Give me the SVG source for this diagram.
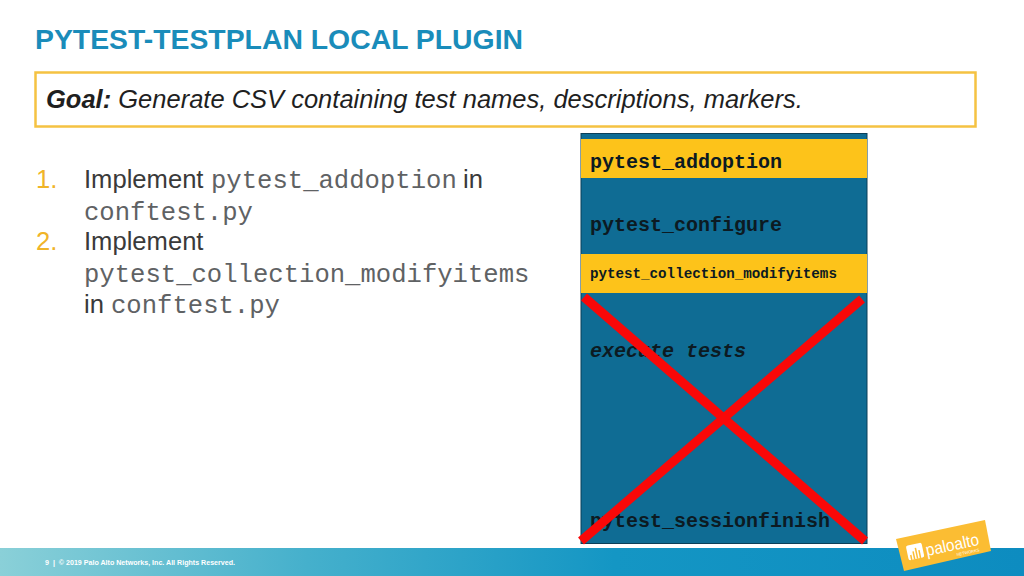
<svg xmlns="http://www.w3.org/2000/svg" width="1024" height="576" viewBox="0 0 1024 576">
<style>
.m{font-family:"Liberation Mono",monospace}
.s{font-family:"Liberation Sans",Arial,sans-serif}
.b{fill:#0f6c94;stroke:#0b3f58;stroke-width:1}
.y{fill:#fdc31a}
.k{font-weight:bold;font-size:20px;fill:#0c1a22}
.l{font-size:25.6px;fill:#3a3a3a}
.c{font-size:25.6px;fill:#5f6264}
.n{font-size:25.6px;fill:#f0b428}
</style>
<defs>
<linearGradient id="g" x1="0" x2="1" y1="0" y2="0"><stop offset="0" stop-color="#8ad0d8"/><stop offset="0.3" stop-color="#45b0cc"/><stop offset="0.6" stop-color="#1496c4"/><stop offset="1" stop-color="#0d8cc0"/></linearGradient>
</defs>
<rect width="1024" height="576" fill="#fff"/>
<g id="footer">
<rect x="0" y="548" width="1024" height="28" fill="url(#g)"/>
<text class="s" x="45" y="565" font-size="7.1" font-weight="bold" fill="#fff" xml:space="preserve" textLength="190">9  |  © 2019 Palo Alto Networks, Inc. All Rights Reserved.</text>
</g>
<text id="title" class="s" x="35" y="49" font-size="28" font-weight="bold" fill="#1a8cba" textLength="488" lengthAdjust="spacingAndGlyphs">PYTEST-TESTPLAN LOCAL PLUGIN</text>
<g id="goal">
<rect x="35.500" y="72.500" width="940" height="54" fill="#fff" stroke="#f5c242" stroke-width="2.500"/>
<text class="s" x="46" y="108" font-size="25.500" font-style="italic" fill="#1f1f1f"><tspan font-weight="bold">Goal:</tspan> Generate CSV containing test names, descriptions, markers.</text>
</g>
<g id="list">
<text class="s n" x="36" y="188">1.</text>
<text class="s l" x="84" y="188">Implement</text>
<text class="m c" x="211" y="188">pytest_addoption</text>
<text class="s l" x="463" y="188">in</text>
<text class="m c" x="84" y="220">conftest.py</text>
<text class="s n" x="36" y="250">2.</text>
<text class="s l" x="84" y="250">Implement</text>
<text class="m c" x="84" y="282">pytest_collection_modifyitems</text>
<text class="s l" x="84" y="313">in</text>
<text class="m c" x="111" y="313">conftest.py</text>
</g>
<g id="stack">
<rect class="b" x="581" y="133.500" width="286" height="410"/>
</g>
<g id="pytest_addoption">
<rect class="y" x="581" y="139" width="286" height="39"/>
<text class="m k" x="590" y="168">pytest_addoption</text>
</g>
<text id="pytest_configure" class="m k" x="590" y="231">pytest_configure</text>
<g id="pytest_collection_modifyitems">
<rect class="y" x="581" y="254" width="286" height="39"/>
<text class="m" x="590" y="278" font-size="14.200" font-weight="bold" fill="#0c1a22">pytest_collection_modifyitems</text>
</g>
<text id="execute_tests" class="m k" x="590" y="357" font-style="italic">execute tests</text>
<text id="pytest_sessionfinish" class="m k" x="590" y="527">pytest_sessionfinish</text>
<g id="connectors" stroke="#f90808" stroke-width="9" fill="none">
<line x1="584" y1="297" x2="865" y2="541"/>
<line x1="862" y1="299" x2="581" y2="541"/>
</g>
<g id="logo">
<polygon points="896,539 985,520 991,551 904,571" fill="#fbbd33"/>
<rect x="907" y="544" width="16" height="15" rx="2" fill="#fff" transform="rotate(-12 915 551)"/>
<g stroke="#fbbd33" stroke-width="1.500" transform="rotate(-12 915 551)">
<line x1="910" y1="559" x2="910" y2="554"/><line x1="913" y1="559" x2="913" y2="551"/><line x1="916" y1="559" x2="916" y2="548"/><line x1="919" y1="559" x2="919" y2="551"/>
</g>
<text class="s" x="927" y="556" font-size="17" fill="#fff" textLength="54" lengthAdjust="spacingAndGlyphs" transform="rotate(-12 927 556)">paloalto</text>
<text class="s" x="957" y="556" font-size="4" fill="#fff" transform="rotate(-12 957 556)">NETWORKS</text>
</g>
</svg>
